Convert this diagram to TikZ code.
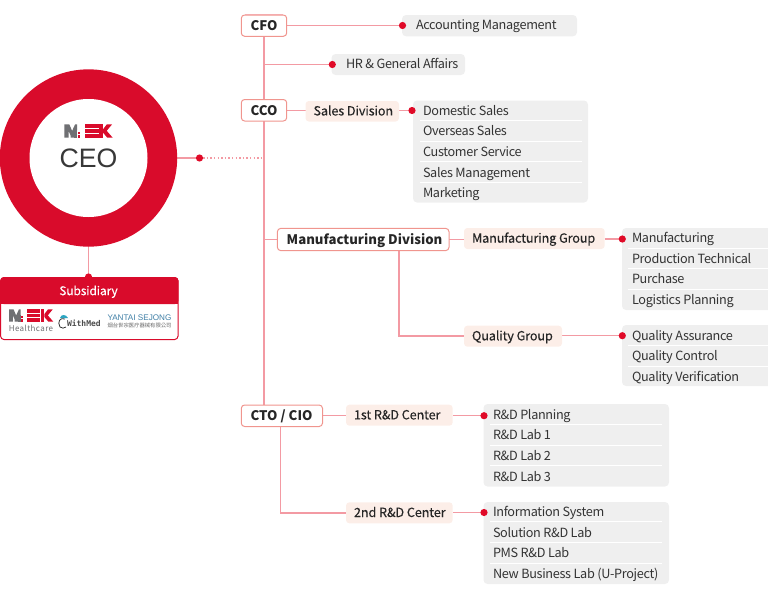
\documentclass[tikz,border=0pt]{standalone}
\usepackage{fontspec}
\setmainfont{Noto Sans CJK KR}
\newfontfamily\arialf{Liberation Sans}
\newfontfamily\monof{DejaVu Sans Mono}
\newfontfamily\rowf[LetterSpace=-2.5]{Noto Sans CJK KR}
\newfontfamily\medf[FakeBold=0.15,LetterSpace=-1]{Noto Sans CJK KR}
\newfontfamily\hcf[LetterSpace=5]{Noto Sans CJK KR}
\usetikzlibrary{backgrounds}
\definecolor{mekred}{HTML}{D90B2B}
\definecolor{dotred}{HTML}{E00A28}
\definecolor{linepink}{HTML}{F39AA3}
\definecolor{borderpink}{HTML}{F0958E}
\definecolor{peach}{HTML}{FCEEE8}
\definecolor{panel}{HTML}{EFEFEF}
\definecolor{txt}{HTML}{333333}
\definecolor{mekgray}{HTML}{6F7073}
\definecolor{ysblue}{HTML}{3F7FA6}
\tikzset{
  x=0.75pt,y=-0.75pt,
  every node/.style={inner sep=0pt,outer sep=0pt,text=txt},
  conn/.style={draw=linepink,line width=1.1pt},
  reddot/.style={circle,fill=dotred,minimum size=5.4pt},
  rolebox/.style={draw=borderpink,fill=white,line width=0.75pt,rounded corners=2.5pt,font=\fontsize{9.9pt}{12pt}\selectfont\bfseries,text=black!85,text height=7.4pt,text depth=0pt,align=left},
  groupbox/.style={fill=peach,rounded corners=2.5pt,font=\medf\fontsize{9.5pt}{12pt}\selectfont,text=black!85,text height=6.3pt,text depth=0pt,align=left},
  panelbox/.style={fill=panel,rounded corners=3pt},
  rowtext/.style={anchor=base west,font=\rowf\fontsize{9.5pt}{12pt}\selectfont},
  rowline/.style={draw=white,line width=0.6pt},
}
% \bx{name}{style}{x1}{y1}{x2}{y2}{pad}{text}
\newcommand\bx[8]{%
  \pgfmathsetmacro\bxw{(#5-#3)*0.75}%
  \pgfmathsetmacro\bxh{(#6-#4)*0.75}%
  \pgfmathsetmacro\bxp{#7*0.75}%
  \pgfmathsetmacro\bxt{\bxw-\bxp}%
  \pgfmathsetmacro\bxcx{(#3+#5)/2}%
  \pgfmathsetmacro\bxcy{(#4+#6)/2}%
  \node[#2,minimum width=\bxw pt,minimum height=\bxh pt,inner ysep=0pt,inner xsep=0pt] (#1) at (\bxcx,\bxcy)
    {\hspace*{\bxp pt}\makebox[\bxt pt][l]{#8}};}
\newcommand\mklogo[3]{%
  \begin{scope}[shift={(#1,#2)},scale=#3]
    \fill[mekgray] (0,0) -- (5,0) -- (7.8,6.6) -- (9.6,2.8) -- (9.6,13.4) -- (6.2,13.4) -- (6.2,11) -- (4.2,6.4) -- (4.2,13.4) -- (0,13.4) -- cycle;
    \fill[mekgray] (9.6,2.8) -- (10.8,0) -- (12.8,0) -- (12.8,6) -- (9.6,6) -- cycle;
    \fill[mekgray] (9.6,6) rectangle (12.8,13.4);
    \fill[mekred] (13.2,7.2) rectangle (15.8,9.8);
    \fill[mekred] (13.2,10.8) rectangle (15.8,13.4);
    \fill[mekred] (20.2,0) rectangle (34.2,3.6);
    \fill[mekred] (20.2,4.9) rectangle (34.2,8.5);
    \fill[mekred] (20.2,9.8) rectangle (34.2,13.4);
    \fill[mekred] (34.6,0) rectangle (38.6,13.4);
    \fill[mekred] (38.6,5.2) -- (42.6,0) -- (47.8,0) -- (42.4,6.5) -- (48.4,13.4) -- (43,13.4) -- (38.6,8.2) -- cycle;
  \end{scope}}
\begin{document}
\begin{tikzpicture}
\useasboundingbox (0,0) rectangle (768,596);
% CEO ring
\node[circle,fill=mekred,minimum size=133pt] (ring) at (88.5,158) {};
\node[circle,fill=white,minimum size=88.5pt] (ringin) at (88.5,158) {};
\mklogo{64.3}{124.3}{1}
\node[font=\arialf\fontsize{20pt}{22pt}\selectfont,text=black!78] (ceo) at (88.5,158) {CEO};
% Subsidiary
\bx{sub}{draw=mekred,fill=white,line width=0.75pt,rounded corners=2.5pt}{0.6}{277.5}{178}{339.5}{0}{}
\fill[mekred,rounded corners=2.5pt] (0.3,304) -- (0.3,277.2) -- (178.4,277.2) -- (178.4,304) -- cycle;
\fill[mekred] (0.3,300) rectangle (178.4,304);
\node[font=\medf\fontsize{9pt}{12pt}\selectfont,text=white] (subt) at (88.5,291.8) {Subsidiary};
\mklogo{9}{309.4}{0.915}
\node[anchor=base west,font=\hcf\fontsize{6pt}{8pt}\selectfont,text=mekgray] (hc) at (8.8,331) {Healthcare};
\node[anchor=base west,font=\monof\bfseries\fontsize{6pt}{7pt}\selectfont,text=black!70] (wm) at (67,326) {WithMed};
\draw[black!80,line width=0.6pt] (65,319) .. controls (60,317) and (57,322) .. (60,327) .. controls (62,329) and (64,328) .. (66,327);
\fill[ysblue!70!cyan] (60,318) .. controls (61,314) and (66,314) .. (68,318) -- cycle;
\node[anchor=base west,font=\arialf\fontsize{6.1pt}{8pt}\selectfont,text=ysblue] (ys) at (107.5,320.3) {YANTAI SEJONG};
\node[anchor=base west,font=\fontsize{4pt}{5pt}\selectfont,text=black!60] (yc) at (107.5,327.3) {烟台世宗医疗器械有限公司};
% Role boxes
\draw[linepink!70,line width=0.9pt] (245,14.2) -- (283,14.2);
\bx{cfo}{rolebox}{241.3}{15}{286.7}{36.3}{9.3}{CFO}
\bx{cco}{rolebox}{241.3}{99.5}{286.7}{121}{9.3}{CCO}
\bx{mfg}{rolebox}{277.4}{228.4}{449}{250.6}{9.3}{Manufacturing Division}
\bx{cto}{rolebox}{241.3}{405}{322.5}{426.5}{9.3}{CTO / CIO}
% Groups
\bx{sales}{groupbox}{305.5}{101}{399}{121.5}{8}{Sales Division}
\bx{mg}{groupbox}{464}{228}{604.7}{249}{8}{Manufacturing Group}
\bx{qg}{groupbox}{464}{325.7}{562}{346.7}{8}{Quality Group}
\bx{rd1}{groupbox}{346}{404.7}{452.7}{425.7}{8}{1st R\&D Center}
\bx{rd2}{groupbox}{346}{502.3}{452.7}{523.3}{8}{2nd R\&D Center}
% Panels
\bx{pacc}{panelbox}{402}{15}{577}{36.3}{0}{}
\bx{phr}{panelbox}{331.5}{54}{465}{75}{0}{}
\bx{psales}{panelbox}{413}{100.5}{588}{202.5}{0}{}
\bx{pmg}{panelbox}{622}{228}{772}{310}{0}{}
\bx{pq}{panelbox}{622}{325}{772}{386}{0}{}
\bx{prd1}{panelbox}{483.5}{404}{669}{486.5}{0}{}
\bx{prd2}{panelbox}{483.5}{502}{669}{584}{0}{}
% Row dividers
\foreach \yy in {120.5,141,161.5,182.5} \draw[rowline] (420,\yy) -- (582,\yy);
\foreach \yy in {248,268.5,289.5,345.5,366} \draw[rowline] (628,\yy) -- (768,\yy);
\foreach \yy in {424.5,445,465.5,521.5,542,563} \draw[rowline] (490,\yy) -- (662,\yy);
% Row text
\node[rowtext] (t1) at (416,30) {Accounting Management};
\node[rowtext] (t2) at (346,68.8) {HR \& General Affairs};
\node[rowtext] (t3) at (423,115.2) {Domestic Sales};
\node[rowtext] (t4) at (423,135.8) {Overseas Sales};
\node[rowtext] (t5) at (423,156.4) {Customer Service};
\node[rowtext] (t6) at (423,177) {Sales Management};
\node[rowtext] (t7) at (423,197.6) {Marketing};
\node[rowtext] (t8) at (632,242.9) {Manufacturing};
\node[rowtext] (t9) at (632,263.3) {Production Technical};
\node[rowtext] (t10) at (632,283.9) {Purchase};
\node[rowtext] (t11) at (632,304.5) {Logistics Planning};
\node[rowtext] (t12) at (632,340.4) {Quality Assurance};
\node[rowtext] (t13) at (632,360.7) {Quality Control};
\node[rowtext] (t14) at (632,381.3) {Quality Verification};
\node[rowtext] (t15) at (493,419.2) {R\&D Planning};
\node[rowtext] (t16) at (493,439.8) {R\&D Lab 1};
\node[rowtext] (t17) at (493,460.4) {R\&D Lab 2};
\node[rowtext] (t18) at (493,481) {R\&D Lab 3};
\node[rowtext] (t19) at (493,516.6) {Information System};
\node[rowtext] (t20) at (493,537.2) {Solution R\&D Lab};
\node[rowtext] (t21) at (493,557.8) {PMS R\&D Lab};
\node[rowtext] (t22) at (493,578.4) {New Business Lab (U-Project)};
% Dots
\node[reddot] (dceo) at (199.5,158) {};
\node[reddot] (dsub) at (88.5,277) {};
\node[reddot] (dacc) at (402.5,25.5) {};
\node[reddot] (dhr) at (332.3,64.5) {};
\node[reddot] (dsales) at (412,110.5) {};
\node[reddot] (dmg) at (622.3,239) {};
\node[reddot] (dq) at (622.3,335.7) {};
\node[reddot] (drd1) at (484,415.7) {};
\node[reddot] (drd2) at (484,512.5) {};
\coordinate (dotend) at (261,158);
\coordinate (mgdrop) at (399,250.6);
\coordinate (ctdrop) at (280.5,426.5);
\begin{scope}[on background layer]
  \draw[conn] (ring.center) -- (dceo.center);
  \draw[draw=linepink,line width=1.1pt,dash pattern=on 1.1pt off 1.6pt] (dceo.center) -- (dotend);
  \draw[conn] (ring.center) -- (dsub.center);
  \draw[conn] (cfo.east) -- (dacc.center |- cfo.east);
  \draw[conn] (cfo.south) -- (cco.north);
  \draw[conn] (cfo.south |- dhr.center) -- (dhr.center);
  \draw[conn] (cco.east) -- (sales.west |- cco.east);
  \draw[conn] (sales.east |- dsales.center) -- (dsales.center);
  \draw[conn] (cco.south) -- (cto.north -| cco.south);
  \draw[conn] (cco.south |- mfg.west) -- (mfg.west);
  \draw[conn] (mfg.east) -- (mg.west |- mfg.east);
  \draw[conn] (mg.east |- dmg.center) -- (dmg.center);
  \draw[conn] (mgdrop) |- (qg.west);
  \draw[conn] (qg.east |- dq.center) -- (dq.center);
  \draw[conn] (cto.east) -- (rd1.west |- cto.east);
  \draw[conn] (rd1.east |- drd1.center) -- (drd1.center);
  \draw[conn] (ctdrop) |- (rd2.west);
  \draw[conn] (rd2.east |- drd2.center) -- (drd2.center);
\end{scope}
\end{tikzpicture}
\end{document}
